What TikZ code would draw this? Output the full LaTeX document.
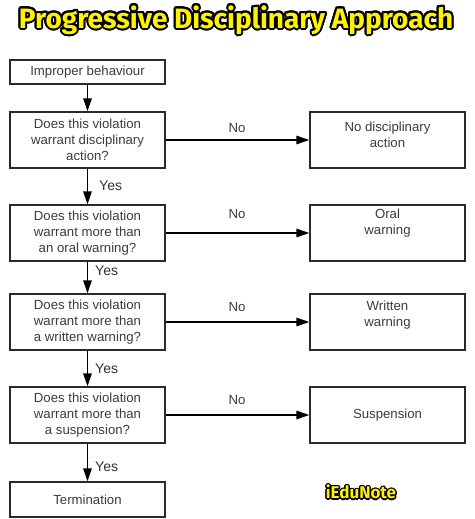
\documentclass[tikz,border=0pt]{standalone}
\usepackage{fontspec}
\setmainfont{Liberation Sans}
\newfontfamily\titlefont{Fira Sans}
\usetikzlibrary{arrows.meta,calc}
\definecolor{txtgray}{HTML}{3C3C3C}
\definecolor{boxline}{HTML}{2A2A2A}
\definecolor{ttlyellow}{HTML}{FFF200}
\begin{document}
\begin{tikzpicture}[x=1pt,y=-1pt,
  box/.style={draw=boxline, line width=1.4pt, minimum width=155pt, align=center, text=txtgray, font=\fontsize{13.2}{16}\selectfont, inner sep=0pt},
  lbl/.style={text=txtgray, font=\fontsize{13.2}{16.5}\selectfont, align=center, inner sep=0pt},
  yeslbl/.style={text=black!80, font=\fontsize{14}{15}\selectfont, inner sep=0pt, anchor=west},
  flow/.style={draw=black, line width=1.4pt, -{Triangle[length=13pt,width=8.5pt]}},
  titletxt/.style={font=\titlefont\bfseries\fontsize{28}{30}\selectfont, inner sep=0pt},
  marktxt/.style={font=\titlefont\bfseries\fontsize{17}{18}\selectfont, inner sep=0pt}
]
\useasboundingbox (0,0) rectangle (474,519);
\fill[white] (0,0) rectangle (474,519);

% title with outline
\foreach \a in {0,20,...,340} {
  \node[titletxt, text=black] at ($(236,20)+(\a:2)$) {Progressive Disciplinary Approach};
}
\node[titletxt, text=ttlyellow] (title) at (236,20) {Progressive Disciplinary Approach};

% left column
\node[box, minimum height=24pt] (b1) at (87.5,72) {Improper behaviour};
\node[box, minimum height=56pt] (b2) at (87.5,140) {Does this violation\\warrant disciplinary\\action?};
\node[box, minimum height=56pt] (b3) at (87.5,233) {Does this violation\\warrant more than\\an oral warning?};
\node[box, minimum height=56pt] (b4) at (87.5,322) {Does this violation\\warrant more than\\a written warning?};
\node[box, minimum height=56pt] (b5) at (87.5,415) {Does this violation\\warrant more than\\a suspension?};
\node[box, minimum height=35pt] (b6) at (87.5,499.5) {Termination};

% right column
\node[box, minimum height=56pt] (r1) at (387.5,140) {};
\node[lbl] (t1) at (387.5,135) {No disciplinary\\action};
\node[box, minimum height=56pt] (r2) at (387.5,233) {};
\node[lbl] (t2) at (387.5,223) {Oral\\warning};
\node[box, minimum height=56pt] (r3) at (387.5,322) {};
\node[lbl] (t3) at (387.5,315) {Written\\warning};
\node[box, minimum height=56pt] (r4) at (387.5,415) {Suspension};

% vertical arrows
\draw[flow] (b1.south) -- (b2.north);
\draw[flow] (b2.south) -- (b3.north);
\draw[flow] (b3.south) -- (b4.north);
\draw[flow] (b4.south) -- (b5.north);
\draw[flow] (b5.south) -- (b6.north);

% horizontal arrows
\draw[flow] (b2.east) -- (r1.west);
\draw[flow] (b3.east) -- (r2.west);
\draw[flow] (b4.east) -- (r3.west);
\draw[flow] (b5.east) -- (r4.west);

% labels
\node[yeslbl] (y1) at (99,186) {Yes};
\node[yeslbl] (y2) at (95,271) {Yes};
\node[yeslbl] (y3) at (95,369) {Yes};
\node[yeslbl] (y4) at (95,467) {Yes};
\node[lbl] (n1) at (237,128) {No};
\node[lbl] (n2) at (237,214) {No};
\node[lbl] (n3) at (237,307) {No};
\node[lbl] (n4) at (237,400) {No};

% watermark with outline
\foreach \a in {0,30,...,330} {
  \node[marktxt, text=black] at ($(361,492)+(\a:1.4)$) {iEduNote};
}
\node[marktxt, text=ttlyellow] (mark) at (361,492) {iEduNote};
\end{tikzpicture}
\end{document}
